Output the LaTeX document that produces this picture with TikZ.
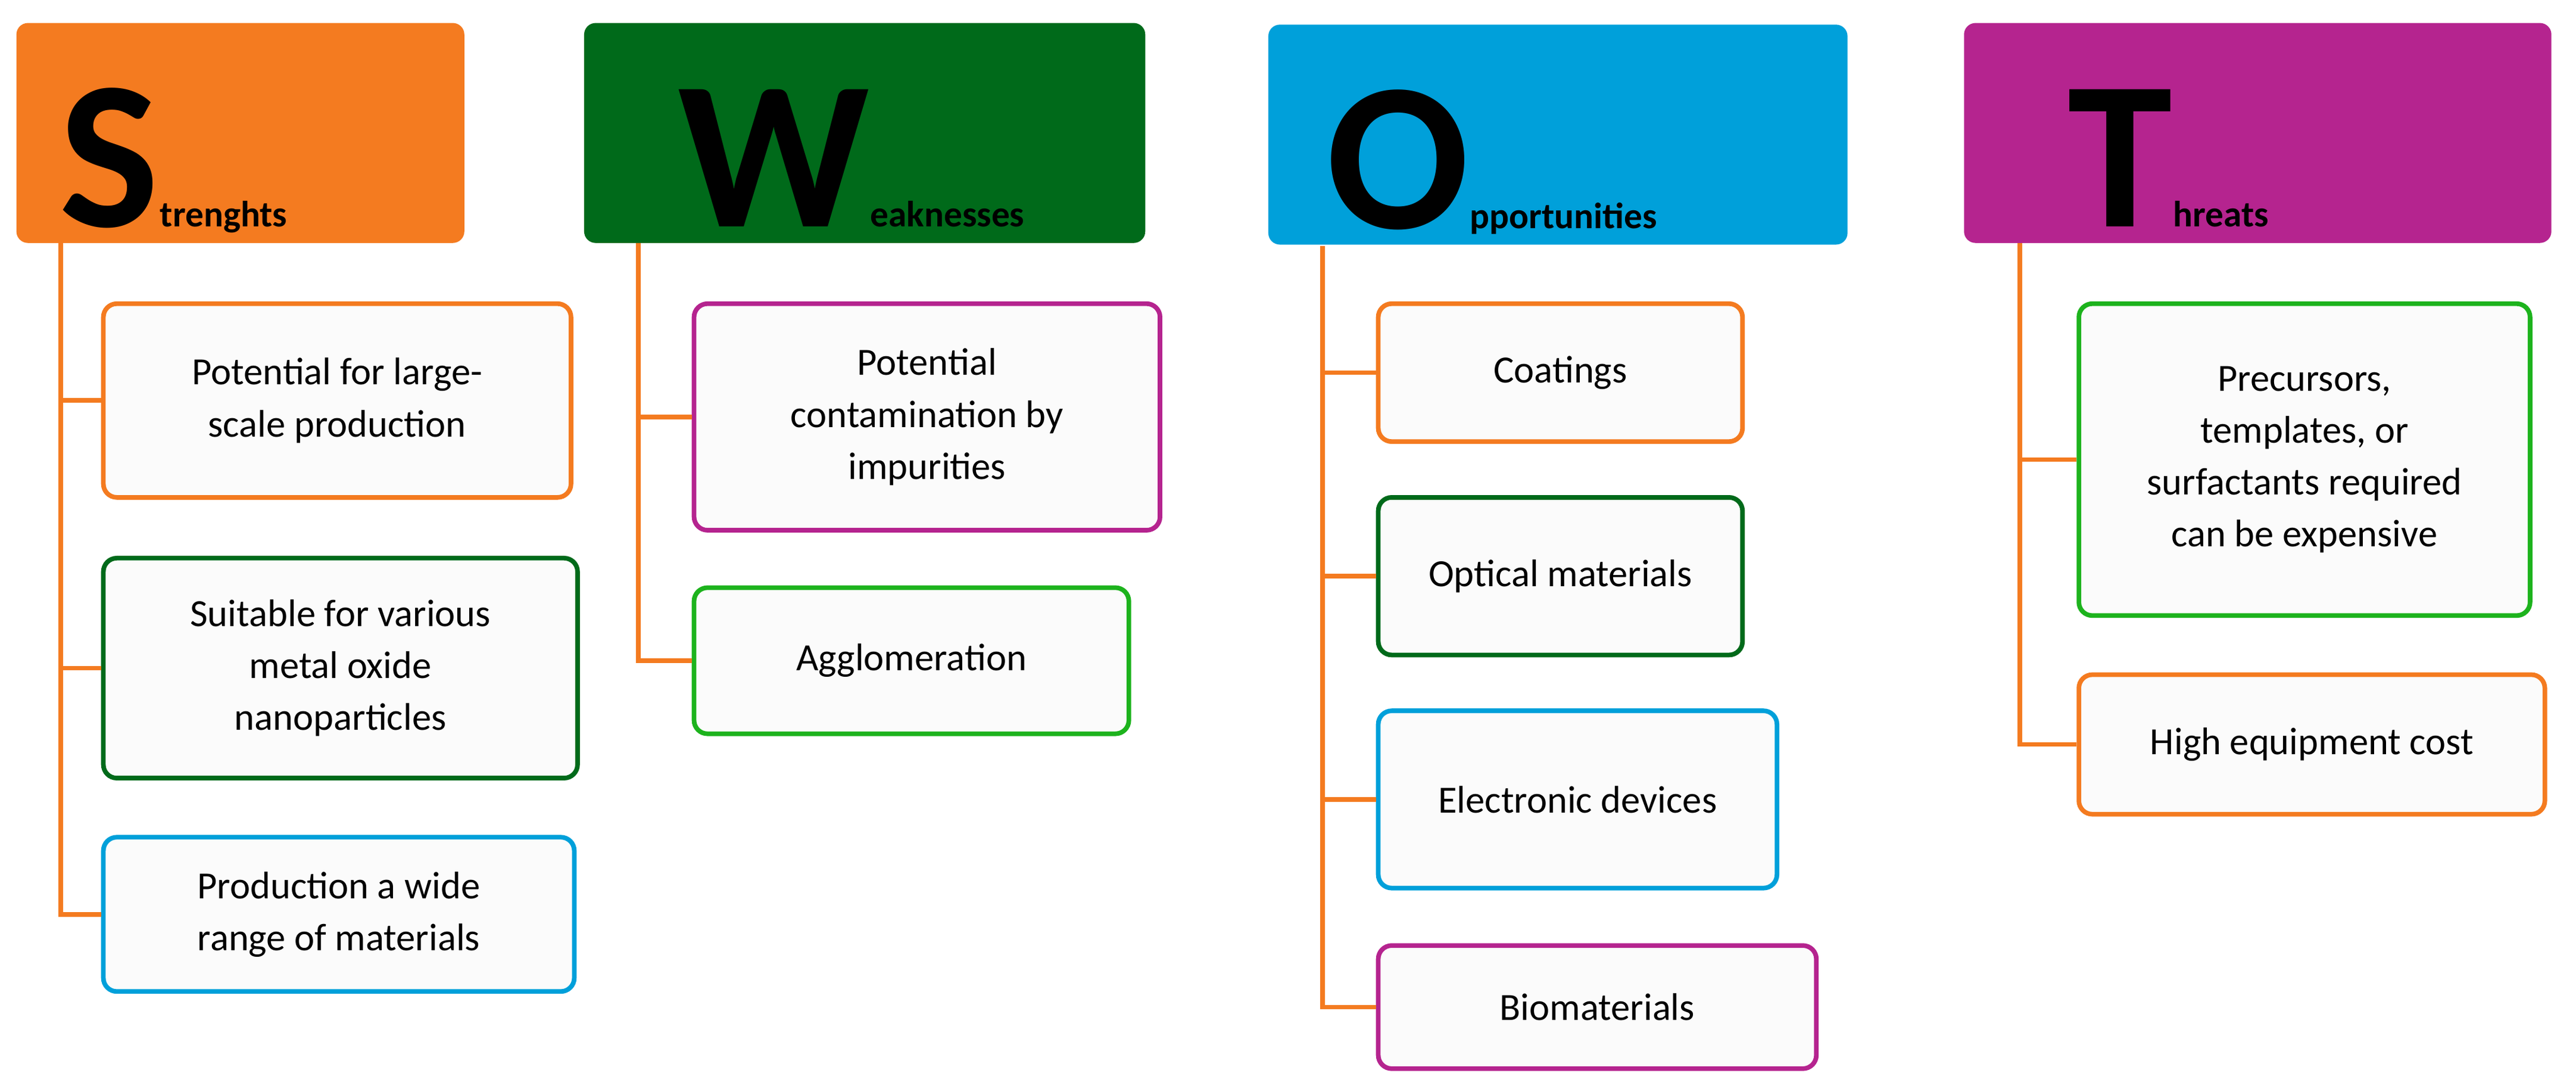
\documentclass[tikz,border=0pt]{standalone}
\usepackage{fontspec}
\setmainfont{Carlito}
\usetikzlibrary{calc}
\definecolor{cor}{HTML}{F47B20}
\definecolor{cdg}{HTML}{006A1A}
\definecolor{cbl}{HTML}{00A0DA}
\definecolor{cpu}{HTML}{B5248F}
\definecolor{clg}{HTML}{1DB31D}
\begin{document}
\begin{tikzpicture}[x=0.03cm,y=-0.03cm,
 hdr/.style={rounded corners=6pt,minimum height=134*0.03cm,inner sep=0pt},
 box/.style={draw,line width=2.4pt,rounded corners=7pt,fill=gray!3,align=center,inner sep=0pt,font=\fontsize{20}{27}\selectfont},
 conn/.style={draw=cor,line width=2.4pt},
 big/.style={font=\fontsize{110}{110}\selectfont\bfseries,inner sep=0pt,anchor=base west},
 sm/.style={font=\fontsize{19}{19}\selectfont\bfseries,inner sep=0pt,anchor=base west}]
\useasboundingbox (0,0) rectangle (1570,665);
% headers
\node[hdr,fill=cor,minimum width=273*0.03cm] (hS) at (146.5,81) {};
\node[hdr,fill=cdg,minimum width=342*0.03cm] (hW) at (527,81) {};
\node[hdr,fill=cbl,minimum width=353*0.03cm] (hO) at (949.5,82) {};
\node[hdr,fill=cpu,minimum width=358*0.03cm] (hT) at (1376,81) {};
\node[big] (lS) at (36,138) {S};
\node[sm] (tS) at (lS.base east) {trenghts};
\node[big] (lW) at (413,138) {W};
\node[sm] (tW) at (lW.base east) {eaknesses};
\node[big] (lO) at (808,139) {O};
\node[sm] (tO) at (lO.base east) {pportunities};
\node[big] (lT) at (1260,138) {T};
\node[sm] (tT) at (lT.base east) {hreats};
% boxes S
\node[box,draw=cor,minimum width=285*0.03cm,minimum height=118*0.03cm] (s1) at (205.5,244) {Potential for large-\\scale production};
\node[box,draw=cdg,minimum width=289*0.03cm,minimum height=134*0.03cm] (s2) at (207.5,407) {Suitable for various\\metal oxide\\nanoparticles};
\node[box,draw=cbl,minimum width=287*0.03cm,minimum height=94*0.03cm] (s3) at (206.5,557) {Production a wide\\range of materials};
% W
\node[box,draw=cpu,minimum width=284*0.03cm,minimum height=138*0.03cm] (w1) at (565,254) {Potential\\contamination by\\impurities};
\node[box,draw=clg,minimum width=265*0.03cm,minimum height=89*0.03cm] (w2) at (555.5,402.5) {Agglomeration};
% O
\node[box,draw=cor,minimum width=222*0.03cm,minimum height=84*0.03cm] (o1) at (951,227) {Coatings};
\node[box,draw=cdg,minimum width=222*0.03cm,minimum height=96*0.03cm] (o2) at (951,351) {Optical materials};
\node[box,draw=cbl,minimum width=243*0.03cm,minimum height=108*0.03cm] (o3) at (961.5,487) {Electronic devices};
\node[box,draw=cpu,minimum width=267*0.03cm,minimum height=75*0.03cm] (o4) at (973.5,613.5) {Biomaterials};
% T
\node[box,draw=clg,minimum width=275*0.03cm,minimum height=190*0.03cm] (t1) at (1404.5,280) {Precursors,\\templates, or\\surfactants required\\can be expensive};
\node[box,draw=cor,minimum width=284*0.03cm,minimum height=85*0.03cm] (t2) at (1409,453.5) {High equipment cost};
% trees
\coordinate (cS) at (37,148);
\coordinate (cW) at (389,148);
\coordinate (cO) at (806,150);
\coordinate (cT) at (1231,148);
\draw[conn] (cS) |- (s3.west);
\draw[conn] (cS) |- (s1.west);
\draw[conn] (cS) |- (s2.west);
\draw[conn] (cW) |- (w2.west);
\draw[conn] (cW) |- (w1.west);
\draw[conn] (cO) |- (o4.west);
\draw[conn] (cO) |- (o1.west);
\draw[conn] (cO) |- (o2.west);
\draw[conn] (cO) |- (o3.west);
\draw[conn] (cT) |- (t2.west);
\draw[conn] (cT) |- (t1.west);
\end{tikzpicture}
\end{document}
